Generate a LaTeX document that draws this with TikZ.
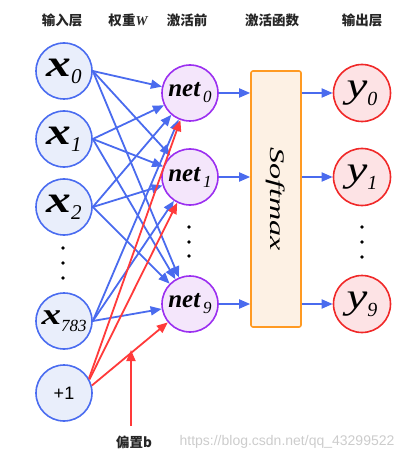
\documentclass[tikz,border=0pt]{standalone}
\usepackage{fontspec}
\newfontfamily\cjk{Noto Sans CJK SC}
\newfontfamily\sansf{Liberation Sans}
\newfontfamily\serf{Liberation Serif}
\usetikzlibrary{arrows.meta}
\definecolor{inblue}{HTML}{4A6CF0}
\definecolor{infill}{HTML}{E9EEFB}
\definecolor{netpur}{HTML}{9B2FF0}
\definecolor{netfill}{HTML}{F4E6FB}
\definecolor{outred}{HTML}{F02828}
\definecolor{outfill}{HTML}{FDE3E5}
\definecolor{arrblue}{HTML}{4A6BEE}
\definecolor{arrred}{HTML}{FF3A3A}
\definecolor{boxor}{HTML}{FF9A22}
\definecolor{boxfill}{HTML}{FDF1E4}
% #1 size of x, #2 size of subscript, #3 subscript
\newcommand{\xl}[3]{\serf\scalebox{1.3}[1]{\fontsize{#1}{#1}\selectfont\bfseries\itshape x}\raisebox{-7pt}{\fontsize{#2}{#2}\selectfont\itshape #3}}
\newcommand{\netl}[1]{\serf{\fontsize{25}{25}\selectfont\bfseries\itshape net}\kern3pt\raisebox{-6pt}{\fontsize{17}{17}\selectfont\itshape #1}}
\newcommand{\yl}[1]{\serf\scalebox{1.3}[1]{\fontsize{36}{36}\selectfont\itshape y}\raisebox{-8pt}{\fontsize{20}{20}\selectfont\itshape #1}}
\tikzset{
  inode/.style={circle, draw=inblue, fill=infill, line width=1.6pt, minimum size=56pt, inner sep=0pt},
  nnode/.style={circle, draw=netpur, fill=netfill, line width=1.6pt, minimum size=56pt, inner sep=0pt},
  onode/.style={circle, draw=outred, fill=outfill, line width=1.6pt, minimum size=57pt, inner sep=0pt},
  barr/.style={draw=arrblue, line width=1.8pt, -{Triangle[length=11pt,width=9pt]}},
  rarr/.style={draw=arrred, line width=1.8pt, -{Triangle[length=11pt,width=9pt]}},
  hdr/.style={font=\cjk\bfseries\fontsize{13.5}{13.5}\selectfont, text=black!85},
  vdot/.style={circle, fill=black, inner sep=0pt, minimum size=3.6pt},
}
\begin{document}
\begin{tikzpicture}[x=1pt,y=-1pt]
\useasboundingbox (0,0) rectangle (418,457);
% headers
\node[hdr] (h1) at (62,20) {输入层};
\node[hdr] (h2) at (128,20) {权重{\serf\itshape\bfseries W}};
\node[hdr] (h3) at (187,20) {激活前};
\node[hdr] (h4) at (272,20) {激活函数};
\node[hdr] (h5) at (362,20) {输出层};
% input nodes
\node[inode] (x0) at (64,71) {\xl{38}{21}{0}};
\node[inode] (x1) at (64,139) {\xl{38}{21}{1}};
\node[inode] (x2) at (64,207) {\xl{38}{21}{2}};
\node[inode] (x783) at (64,321) {\xl{30}{17}{783}};
\node[inode, font=\sansf\fontsize{18}{18}\selectfont] (one) at (64,393) {+1};
\node[vdot] (d1) at (63,248) {};
\node[vdot] (d2) at (63,263) {};
\node[vdot] (d3) at (63,278) {};
% net nodes
\node[nnode] (n0) at (190,93) {\netl{0}};
\node[nnode] (n1) at (190,177) {\netl{1}};
\node[nnode] (n9) at (190,304) {\netl{9}};
\node[vdot] (e1) at (189,227) {};
\node[vdot] (e2) at (189,242) {};
\node[vdot] (e3) at (189,256) {};
% softmax box
\node[draw=boxor, fill=boxfill, line width=1.6pt, rounded corners=2pt, minimum width=50pt, minimum height=256pt, inner sep=0pt] (sm) at (276,199) {};
\node[rotate=-90, inner sep=0pt] (smt) at (sm.center) {\serf\scalebox{1.4}[0.9]{\fontsize{23}{23}\selectfont\itshape Softmax}};
% output nodes
\node[onode] (y0) at (362,93) {\yl{0}};
\node[onode] (y1) at (362,177) {\yl{1}};
\node[onode] (y9) at (362,304) {\yl{9}};
\node[vdot] (f1) at (362,227) {};
\node[vdot] (f2) at (362,242) {};
\node[vdot] (f3) at (362,257) {};
% blue weights
\foreach \s in {x0,x1,x2,x783}{
  \foreach \t in {n0,n1,n9}{
    \draw[barr] (\s.east) -- (\t);
  }
}
% red bias
\draw[rarr] (one.30) -- (n0);
\draw[rarr] (one.28) -- (n1);
\draw[rarr] (one.15) -- (n9);
% net -> softmax -> out
\draw[barr] (n0) -- (n0 -| sm.west);
\draw[barr] (n1) -- (n1 -| sm.west);
\draw[barr] (n9) -- (n9 -| sm.west);
\draw[barr] (y0 -| sm.east) -- (y0);
\draw[barr] (y1 -| sm.east) -- (y1);
\draw[barr] (y9 -| sm.east) -- (y9);
% bias label
\node[font=\cjk\bfseries\fontsize{13.5}{13.5}\selectfont, text=black!85] (bias) at (134,442) {偏置b};
\coordinate (btip) at (131,350);
\draw[rarr] (btip |- bias.north) ++(0,-6) -- (btip);
% watermark
\node[font=\sansf\fontsize{14}{14}\selectfont, text=black!20] (wm) at (287,442) {https://blog.csdn.net/qq\_43299522};
\end{tikzpicture}
\end{document}
